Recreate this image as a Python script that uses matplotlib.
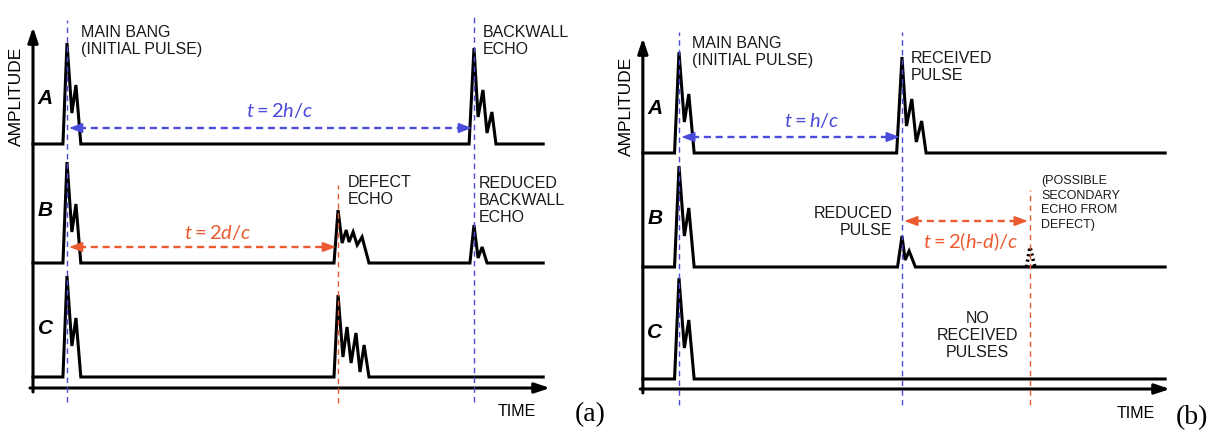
import matplotlib
matplotlib.use("Agg")
import matplotlib.pyplot as plt

plt.rcParams['font.family'] = ['Liberation Sans', 'DejaVu Sans']
plt.rcParams['mathtext.fontset'] = 'custom'
plt.rcParams['mathtext.it'] = 'Lato:italic'
plt.rcParams['mathtext.rm'] = 'Lato'

# ---- data -------------------------------------------------------------
# panel (a): time units where 2h/c = 10
A_T_MAIN = 0.0
A_T_DEFECT = 6.66
A_T_BACK = 10.0
A_T_RANGE = (-0.835, 11.70)

# panel (b): time units where h/c = 5
B_T_MAIN = 0.0
B_T_RECEIVED = 5.0
B_T_SECOND = 7.87
B_T_RANGE = (-0.81, 10.90)

# pulse shapes: time offsets from the peak and amplitudes
MAIN_DT = [-0.10, 0.0, 0.12, 0.22, 0.34]
MAIN_AMP = [0.0, 1.01, 0.31, 0.59, 0.0]

ECHO_DT = [-0.12, 0.0, 0.10, 0.22, 0.32, 0.44, 0.54]
ECHO_AMP = [0.0, 0.96, 0.27, 0.54, 0.11, 0.32, 0.0]

DEFECT_B_DT = [-0.10, 0.0, 0.10, 0.20, 0.27, 0.37, 0.47, 0.59, 0.76]
DEFECT_B_AMP = [0.0, 0.53, 0.20, 0.33, 0.21, 0.31, 0.18, 0.26, 0.0]

DEFECT_C_DT = [-0.10, 0.0, 0.12, 0.22, 0.32, 0.44, 0.54, 0.64, 0.76]
DEFECT_C_AMP = [0.0, 0.82, 0.20, 0.50, 0.14, 0.44, 0.05, 0.32, 0.0]

REDUCED_BACK_DT = [-0.10, 0.0, 0.10, 0.20, 0.32]
REDUCED_BACK_AMP = [0.0, 0.38, 0.05, 0.16, 0.0]

REDUCED_PULSE_DT = [-0.10, 0.0, 0.07, 0.16, 0.30]
REDUCED_PULSE_AMP = [0.0, 0.31, 0.07, 0.16, 0.0]

SECOND_DT = [-0.08, 0.0, 0.11]
SECOND_AMP = [0.0, 0.20, 0.0]

TRACE_LABELS = ['A', 'B', 'C']

# ---- layout ----------------------------------------------------------
A_BASE = [2.33, 1.14, 0.0]
B_BASE = [2.26, 1.12, 0.0]
BLUE = '#4b4bdc'
RED = '#ec5a30'
LW = 2.2


def build_trace(t0, t1, pulses):
    xs, ys = [t0], [0.0]
    for tc, dts, amps in pulses:
        for dt, a in zip(dts, amps):
            xs.append(tc + dt)
            ys.append(a)
    xs.append(t1)
    ys.append(0.0)
    return xs, ys


def draw_trace(ax, base, trange, pulses):
    xs, ys = build_trace(trange[0], trange[1], pulses)
    ax.plot(xs, [y + base for y in ys], color='black', lw=LW,
            solid_joinstyle='miter', zorder=3)


def axis_arrow(ax, start, tip):
    ax.annotate('', xy=tip, xytext=start,
                arrowprops=dict(arrowstyle='-|>,head_length=0.9,head_width=0.3',
                                mutation_scale=10, color='black', lw=LW,
                                shrinkA=0, shrinkB=0))


def span_arrow(ax, t0, t1, y, color, head=0.25):
    ax.plot([t0 + head, t1 - head], [y, y], color=color, lw=1.7,
            dashes=(3, 2), zorder=2)
    for a, b in [(t0 + head, t0), (t1 - head, t1)]:
        ax.annotate('', xy=(b, y), xytext=(a, y),
                    arrowprops=dict(arrowstyle='-|>,head_length=0.8,head_width=0.3',
                                    mutation_scale=10, color=color, lw=1.2,
                                    shrinkA=0, shrinkB=0))


def vline(ax, t, y0, y1, color):
    ax.plot([t, t], [y0, y1], color=color, lw=1.0, dashes=(4, 3), zorder=4)


fig = plt.figure(figsize=(12.23, 4.37), dpi=100)
ax_a = fig.add_axes([0, 0, 600 / 1223, 1])
ax_b = fig.add_axes([600 / 1223, 0, 623 / 1223, 1])
for ax in (ax_a, ax_b):
    ax.set_axis_off()
    ax.patch.set_alpha(0)
ax_a.set_xlim(-1.646, 13.096)
ax_a.set_ylim(-0.60, 3.77)
ax_b.set_xlim(-1.771, 12.197)
ax_b.set_ylim(-0.58, 3.79)

txt = dict(fontsize=11.5, color='#1a1a1a', va='top', linespacing=1.15)
lab = dict(fontsize=15, fontweight='bold', style='italic', ha='center', va='center')

# ---------------- panel (a) ----------------
ax = ax_a
draw_trace(ax, A_BASE[0], A_T_RANGE,
           [(A_T_MAIN, MAIN_DT, MAIN_AMP), (A_T_BACK, ECHO_DT, ECHO_AMP)])
draw_trace(ax, A_BASE[1], A_T_RANGE,
           [(A_T_MAIN, MAIN_DT, MAIN_AMP), (A_T_DEFECT, DEFECT_B_DT, DEFECT_B_AMP),
            (A_T_BACK, REDUCED_BACK_DT, REDUCED_BACK_AMP)])
draw_trace(ax, A_BASE[2], A_T_RANGE,
           [(A_T_MAIN, MAIN_DT, MAIN_AMP), (A_T_DEFECT, DEFECT_C_DT, DEFECT_C_AMP)])

axis_arrow(ax, (A_T_RANGE[0], -0.15), (A_T_RANGE[0], 3.50))
axis_arrow(ax, (-0.91, -0.11), (11.87, -0.11))

vline(ax, A_T_MAIN, -0.25, 3.57, BLUE)
vline(ax, A_T_BACK, -0.25, 3.60, BLUE)
vline(ax, A_T_DEFECT, -0.26, 1.92, RED)

span_arrow(ax, A_T_MAIN + 0.05, A_T_BACK - 0.05, 2.49, BLUE)
span_arrow(ax, A_T_MAIN + 0.05, A_T_DEFECT - 0.05, 1.30, RED)

ax.text(5.22, 2.65, r'$t = 2h/c$', color=BLUE, fontsize=14.5, ha='center', va='center')
ax.text(3.69, 1.44, r'$t = 2d/c$', color=RED, fontsize=14.5, ha='center', va='center')

ax.text(0.34, 3.52, 'MAIN BANG\n(INITIAL PULSE)', **txt)
ax.text(10.22, 3.52, 'BACKWALL\nECHO', **txt)
ax.text(6.90, 2.02, 'DEFECT\nECHO', **txt)
ax.text(10.12, 2.01, 'REDUCED\nBACKWALL\nECHO', **txt)

for name, y in zip(TRACE_LABELS, [2.78, 1.66, 0.49]):
    ax.text(-0.53, y, name, **lab)
ax.text(-1.23, 2.81, 'AMPLITUDE', rotation=90, fontsize=12.5, ha='center', va='center')
ax.text(11.06, -0.34, 'TIME', fontsize=11.5, ha='center', va='center')
ax.text(12.85, -0.38, '(a)', fontsize=20, family='Liberation Serif',
        ha='center', va='center')

# ---------------- panel (b) ----------------
ax = ax_b
draw_trace(ax, B_BASE[0], B_T_RANGE,
           [(B_T_MAIN, MAIN_DT, MAIN_AMP), (B_T_RECEIVED, ECHO_DT, ECHO_AMP)])
draw_trace(ax, B_BASE[1], B_T_RANGE,
           [(B_T_MAIN, MAIN_DT, MAIN_AMP),
            (B_T_RECEIVED, REDUCED_PULSE_DT, REDUCED_PULSE_AMP)])
draw_trace(ax, B_BASE[2], B_T_RANGE, [(B_T_MAIN, MAIN_DT, MAIN_AMP)])

# dotted possible secondary echo
ax.plot([B_T_SECOND + d for d in SECOND_DT], [B_BASE[1] + a for a in SECOND_AMP],
        color='black', lw=2.6, ls=(0, (0.6, 0.9)), zorder=3)

axis_arrow(ax, (B_T_RANGE[0], -0.14), (B_T_RANGE[0], 3.41))
axis_arrow(ax, (-0.87, -0.10), (11.01, -0.10))

vline(ax, B_T_MAIN, -0.26, 3.47, BLUE)
vline(ax, B_T_RECEIVED, -0.26, 3.47, BLUE)
vline(ax, B_T_SECOND, -0.26, 1.89, RED)

span_arrow(ax, B_T_MAIN + 0.05, B_T_RECEIVED - 0.05, 2.42, BLUE)
span_arrow(ax, B_T_RECEIVED + 0.05, B_T_SECOND - 0.05, 1.58, RED)

ax.text(2.98, 2.57, r'$t = h/c$', color=BLUE, fontsize=14.5, ha='center', va='center')
ax.text(6.55, 1.37, r'$t = 2(h$-$d)/c$', color=RED, fontsize=14.5, ha='center', va='center')

ax.text(0.29, 3.43, 'MAIN BANG\n(INITIAL PULSE)', **txt)
ax.text(5.20, 3.28, 'RECEIVED\nPULSE', **txt)
ax.text(4.78, 1.73, 'REDUCED\nPULSE', ha='right', multialignment='right', **txt)
ax.text(8.12, 2.04, '(POSSIBLE\nSECONDARY\nECHO FROM\nDEFECT)', fontsize=9,
        color='#1a1a1a', va='top', linespacing=1.3)
ax.text(6.70, 0.68, 'NO\nRECEIVED\nPULSES', ha='center', multialignment='center',
        **txt)

for name, y in zip(TRACE_LABELS, [2.70, 1.61, 0.46]):
    ax.text(-0.54, y, name, **lab)
ax.text(-1.17, 2.73, 'AMPLITUDE', rotation=90, fontsize=12.5, ha='center', va='center')
ax.text(10.25, -0.34, 'TIME', fontsize=11.5, ha='center', va='center')
ax.text(11.50, -0.39, '(b)', fontsize=20, family='Liberation Serif',
        ha='center', va='center')

fig.savefig('out.png', dpi=100)
